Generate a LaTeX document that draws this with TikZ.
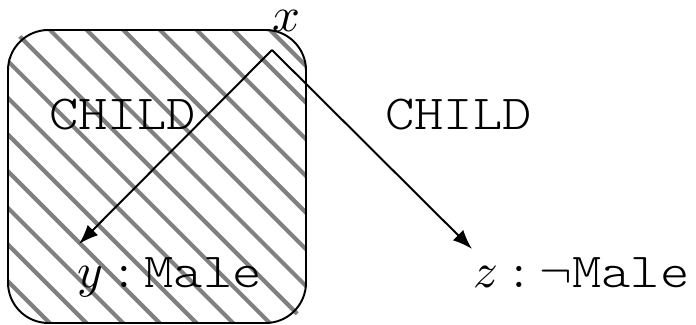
\documentclass[tikz,border=0pt]{standalone}
\usepackage{fontspec}
\setmonofont[FakeStretch=1.14]{Latin Modern Mono Light}
\usepackage{amssymb}
\usepackage{amsmath}
\usetikzlibrary{arrows.meta}

\begin{document}
\begin{tikzpicture}[x=0.07184cm, y=0.07184cm,
    hatch/.style={draw=gray, line width=0.85pt},
    edge/.style={-{Latex[length=4pt,width=3pt]}},
    lab/.style={inner sep=0, anchor=base west}]
    \useasboundingbox (0,0) rectangle (69.6,32.5);
    % shaded box round the left child
    \begin{scope}
        \clip[rounded corners=2.2mm] (0.8,0.2) rectangle (30.6,29.5);
        \foreach \s in {1.5,5.167,...,62}
            \draw[hatch] (\s-35,35) -- (\s+5,-5);
    \end{scope}
    \draw[rounded corners=2.9mm] (0.8,0.2) rectangle (30.6,29.5);
    \coordinate (root) at (27.2,27.5);
    \coordinate (ytip) at (7.9,8.1);
    \coordinate (ztip) at (47.2,7.6);
    \node[inner sep=0, anchor=base] (xlab) at (28.65,29.3) {$x$};
    \node[lab] (ylab) at (7.7,3.7) {$y:\texttt{Male}$};
    \node[lab] (zlab) at (47.3,3.7) {$z:\neg\texttt{Male}$};
    \draw[edge] (root) -- (ytip);
    \draw[edge] (root) -- (ztip);
    \node[inner sep=0, anchor=base] (lchild) at (12.25,19.5) {\texttt{CHILD}};
    \node[inner sep=0, anchor=base] (rchild) at (45.85,19.5) {\texttt{CHILD}};
\end{tikzpicture}
\end{document}
